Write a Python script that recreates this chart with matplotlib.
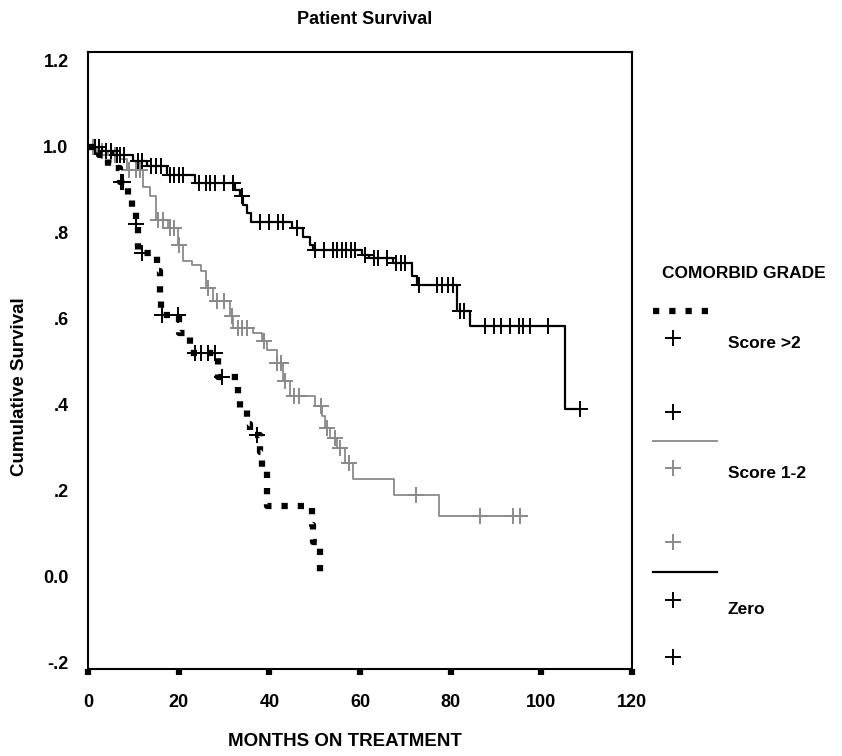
import numpy as np
import matplotlib
matplotlib.use('Agg')
import matplotlib.pyplot as plt
from matplotlib.lines import Line2D

plt.rcParams['font.family'] = ['Liberation Sans', 'DejaVu Sans']
plt.rcParams['font.weight'] = 'bold'

# Kaplan-Meier steps: event times and survival after each step
zero_times = [0, 3, 5.5, 9.9, 13, 17.4, 23.6, 32.5, 33.5, 34.2, 35, 36, 45, 47.5, 49, 49.7,
              60.4, 62, 67.3, 71.5, 72.5, 81.4, 84.3, 105.2]
zero_surv = [1.0, 0.99, 0.98, 0.967, 0.955, 0.935, 0.915, 0.90, 0.885, 0.865, 0.845, 0.825,
             0.81, 0.79, 0.77, 0.76, 0.748, 0.74, 0.73, 0.70, 0.678, 0.617, 0.583, 0.39]
zero_end = 108.5
zero_cens = [1.5, 2.5, 4, 5, 6.5, 7, 8, 11, 12, 14, 15, 16, 18, 19, 20, 21, 24.5, 26, 27, 28,
             30, 32, 34, 38, 40, 42, 43, 46, 50, 52, 54, 55, 56, 57, 58, 59, 61, 63, 64, 66,
             68, 69, 70, 73, 77, 78, 79.5, 80.5, 82, 83, 87.6, 89.5, 91, 93, 95, 96, 97.5,
             101.5, 108.5]

mid_times = [0, 2, 4.5, 7, 8.5, 12.2, 13.6, 15, 17.6, 19.9, 21, 23, 25, 26, 27.6, 31.3, 32,
             36.4, 38.4, 39.5, 41.7, 43, 44.6, 50, 51.6, 52.3, 53.4, 55, 56.7, 58.5, 67.6, 77.4]
mid_surv = [1.0, 0.99, 0.98, 0.97, 0.945, 0.907, 0.886, 0.83, 0.81, 0.77, 0.733, 0.725, 0.71,
            0.67, 0.64, 0.605, 0.578, 0.566, 0.548, 0.527, 0.497, 0.455, 0.42, 0.397, 0.374,
            0.346, 0.323, 0.30, 0.265, 0.226, 0.189, 0.14]
mid_end = 96.8
mid_cens = [1, 3, 5, 6, 9, 10.5, 11.5, 15.5, 16.5, 18, 19, 20, 26.5, 28.5, 30, 31.8, 33, 34,
            35, 38.8, 41.8, 42.5, 43.5, 45.4, 46.6, 51.5, 52.8, 54.5, 55.5, 57.5, 72.4, 86.5,
            93.8, 95.3]

high_times = [0, 2.5, 4.5, 7, 8.8, 9.7, 10.5, 11, 15.2, 15.9, 16.2, 20, 22.5, 28.7, 33, 33.5,
              35, 35.7, 38, 38.3, 39.4, 49.4, 49.7, 51.2]
high_surv = [1.0, 0.98, 0.95, 0.918, 0.885, 0.852, 0.82, 0.752, 0.71, 0.65, 0.608, 0.566,
             0.52, 0.465, 0.42, 0.393, 0.355, 0.33, 0.29, 0.245, 0.165, 0.12, 0.08, 0.0]
high_end = 51.2
high_cens = [7.2, 7.8, 10.5, 12, 16.3, 19.9, 23.5, 25, 26.5, 28, 29.5, 37.2]

x_ticks = [0, 20, 40, 60, 80, 100, 120]
y_ticks = [1.2, 1.0, 0.8, 0.6, 0.4, 0.2, 0.0, -0.2]
y_labels = ['1.2', '1.0', '.8', '.6', '.4', '.2', '0.0', '-.2']

gray = '#8a8a8a'
dots = (0, (1, 1.6))

fig = plt.figure(figsize=(8.42, 7.56), dpi=100)
ax = fig.add_axes([88 / 842, 1 - 669 / 756, (632 - 88) / 842, (669 - 52) / 756])


def km(times, surv, end, cens, color, lw, ls):
    t = np.array(times + [end])
    s = np.array(surv + [surv[-1]])
    ax.step(t, s, where='post', color=color, lw=lw, linestyle=ls, dash_capstyle='butt')
    idx = np.searchsorted(times, cens, side='right') - 1
    ax.plot(cens, np.array(surv)[idx], linestyle='none', marker='+', ms=11, mew=1.4,
            color=color)


km(mid_times, mid_surv, mid_end, mid_cens, gray, 1.3, '-')
km(zero_times, zero_surv, zero_end, zero_cens, 'black', 1.6, '-')
km(high_times, high_surv, high_end, high_cens, 'black', 4.5, dots)

ax.set_xlim(0, 120)
ax.set_ylim(-0.215, 1.22)
ax.set_xticks(x_ticks)
ax.set_yticks(y_ticks)
ax.set_yticklabels(y_labels)
ax.tick_params(axis='x', length=4, width=4.5, direction='out', pad=14, labelsize=13)
ax.tick_params(axis='y', length=0, pad=14, labelsize=13)
for sp in ax.spines.values():
    sp.set_linewidth(1.5)

fig.text(365 / 842, 1 - 20 / 756, 'Patient Survival', ha='center', va='center', fontsize=13)
fig.text(345 / 842, 1 - 741 / 756, 'MONTHS ON TREATMENT', ha='center', va='center', fontsize=13.5)
fig.text(20 / 842, 1 - 387 / 756, 'Cumulative Survival', ha='center', va='center',
         rotation=90, fontsize=13.5)

# legend drawn beside the plot, like the original
def px(x, y):
    return x / 842, 1 - y / 756

fig.text(*px(662, 273), 'COMORBID GRADE', ha='left', va='center', fontsize=12.5)
fig.add_artist(Line2D(*zip(px(653, 311), px(710, 311)), color='black', lw=4.5,
                      linestyle=dots, dash_capstyle='butt'))
fig.add_artist(Line2D(*zip(px(653, 441), px(717, 441)), color=gray, lw=1.3))
fig.add_artist(Line2D(*zip(px(653, 572), px(717, 572)), color='black', lw=1.6))
for yy, c in [(338, 'black'), (412, 'black'), (468, gray), (542, gray), (600, 'black'), (657, 'black')]:
    fig.add_artist(Line2D([673 / 842], [1 - yy / 756], marker='+', ms=11, mew=1.4, color=c,
                          linestyle='none'))
fig.text(*px(728, 343), 'Score >2', ha='left', va='center', fontsize=12.5)
fig.text(*px(728, 474), 'Score 1-2', ha='left', va='center', fontsize=12.5)
fig.text(*px(728, 609), 'Zero', ha='left', va='center', fontsize=12.5)

fig.savefig('out.png', dpi=100)
